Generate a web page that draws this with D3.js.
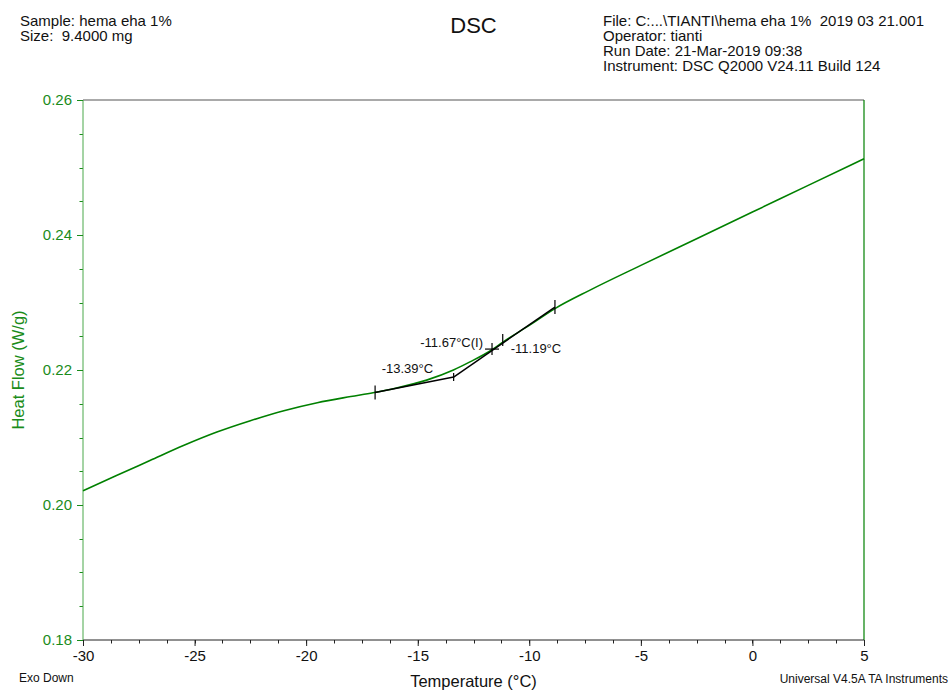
<!DOCTYPE html>
<html>
<head>
<meta charset="utf-8">
<script src="https://cdn.jsdelivr.net/npm/d3@7/dist/d3.min.js"></script>
<style>
  html, body { margin: 0; padding: 0; background: #fff; }
  svg { display: block; font-family: "Liberation Sans", Arial, sans-serif; }
  text { white-space: pre; }
</style>
</head>
<body>
<svg id="chart" width="951" height="690"></svg>
<script>
// DSC heat flow trace (W/g) against temperature (°C)
const temperature = [-30, -28.5, -27, -25.5, -24, -22.5, -21, -19.5, -18, -17, -16, -14.6, -13.4,
  -12.66, -11.67, -11.2, -10, -8.85, -7.3, -5, -2.5, 0, 2.5, 5];
const heatFlow = [0.20212, 0.20437, 0.20659, 0.20881, 0.21081, 0.21249, 0.21397, 0.21516, 0.21607,
  0.21664, 0.2173, 0.2185, 0.2200, 0.2212, 0.2230, 0.2241, 0.2266, 0.2291, 0.2318, 0.2355,
  0.23945, 0.2434, 0.24735, 0.2513];

// Glass transition analysis: baseline tangent, inflection tangent and marked points
const onsetTemps = [-16.91, -13.39];
const onsetFlows = [0.21667, 0.21896];
const slopeTemps = [-13.39, -8.85];
const slopeFlows = [0.21896, 0.22933];
const tickTemps = [-16.91, -13.39, -11.19, -8.85];
const tickFlows = [0.21667, 0.21896, 0.22444, 0.22933];
const inflectionTemp = -11.67;
const inflectionFlow = 0.2231;
const annotationLabels = ["-13.39°C", "-11.67°C(I)", "-11.19°C"];

const xTicks = [-30, -25, -20, -15, -10, -5, 0, 5];
const yTicks = [0.18, 0.20, 0.22, 0.24, 0.26];
const yTickLabels = ["0.18", "0.20", "0.22", "0.24", "0.26"];

const headerLeft = ["Sample: hema eha 1%", "Size:  9.4000 mg"];
const headerRight = ["File: C:...\\TIANTI\\hema eha 1%  2019 03 21.001", "Operator: tianti",
  "Run Date: 21-Mar-2019 09:38", "Instrument: DSC Q2000 V24.11 Build 124"];

const green = "#008000";
const labelGreen = "#1a8c1a";

const svg = d3.select("#chart");
const plotLeft = 83, plotRight = 864, plotTop = 100, plotBottom = 640;

const x = d3.scaleLinear().domain([-30, 5]).range([plotLeft, plotRight]);
const y = d3.scaleLinear().domain([0.18, 0.26]).range([plotBottom, plotTop]);

// Header
svg.append("g").selectAll("text").data(headerLeft).join("text")
  .attr("x", 20).attr("y", (d, i) => 26 + i * 15.3)
  .attr("font-size", 15).attr("fill", "#111").text(d => d);
svg.append("g").selectAll("text").data(headerRight).join("text")
  .attr("x", 603).attr("y", (d, i) => 25.5 + i * 15.3)
  .attr("font-size", 15).attr("fill", "#111").text(d => d);
svg.append("text").attr("x", (plotLeft + plotRight) / 2).attr("y", 33)
  .attr("text-anchor", "middle").attr("font-size", 22).attr("fill", "#111").text("DSC");

// Frame: top border grey, right border green
svg.append("line").attr("x1", plotLeft).attr("x2", plotRight).attr("y1", plotTop).attr("y2", plotTop)
  .attr("stroke", "#555").attr("stroke-width", 1);
svg.append("line").attr("x1", plotRight).attr("x2", plotRight).attr("y1", plotTop).attr("y2", plotBottom)
  .attr("stroke", green).attr("stroke-width", 1.2);

// Minor ticks: every 1.25 °C on x, every 0.005 W/g on y
const xMinor = d3.range(0, 29).map(i => -30 + i * 1.25);
const yMinor = d3.range(0, 17).map(i => 0.18 + i * 0.005);
svg.append("g").selectAll("line").data(xMinor).join("line")
  .attr("x1", d => Math.round(x(d)) + 0.5).attr("x2", d => Math.round(x(d)) + 0.5)
  .attr("y1", plotBottom).attr("y2", plotBottom + 3.5)
  .attr("stroke", "#222").attr("stroke-width", 1);
svg.append("g").selectAll("line").data(yMinor).join("line")
  .attr("y1", d => Math.round(y(d)) + 0.5).attr("y2", d => Math.round(y(d)) + 0.5)
  .attr("x1", plotLeft - 3.5).attr("x2", plotLeft)
  .attr("stroke", labelGreen).attr("stroke-width", 1);

// X axis majors
svg.append("g").attr("transform", `translate(0,${plotBottom})`)
  .call(d3.axisBottom(x).tickValues(xTicks).tickSize(6).tickPadding(4).tickFormat(d => String(d)))
  .call(g => g.select(".domain").attr("stroke", "#222").attr("d", `M${plotLeft},0H${plotRight}`))
  .call(g => g.selectAll("line").attr("stroke", "#222"))
  .call(g => g.selectAll("text").attr("font-size", 15).attr("fill", "#111")
    .attr("font-family", "Liberation Sans, Arial, sans-serif"));

// Y axis majors
svg.append("g").attr("transform", `translate(${plotLeft},0)`)
  .call(d3.axisLeft(y).tickValues(yTicks).tickSize(6).tickPadding(5).tickFormat((d, i) => yTickLabels[i]))
  .call(g => g.select(".domain").attr("stroke", "#4aa84a").attr("d", `M0,${plotTop}V${plotBottom}`))
  .call(g => g.selectAll("line").attr("stroke", labelGreen))
  .call(g => g.selectAll("text").attr("font-size", 15).attr("fill", labelGreen)
    .attr("font-family", "Liberation Sans, Arial, sans-serif"));

// Axis titles
svg.append("text").attr("x", (plotLeft + plotRight) / 2).attr("y", 686.5)
  .attr("text-anchor", "middle").attr("font-size", 16.5).attr("fill", "#111")
  .text("Temperature (°C)");
svg.append("text").attr("transform", `translate(24,${(plotTop + plotBottom) / 2}) rotate(-90)`)
  .attr("text-anchor", "middle").attr("font-size", 16.5).attr("fill", labelGreen)
  .text("Heat Flow (W/g)");

svg.append("text").attr("x", 19).attr("y", 682).attr("font-size", 12).attr("fill", "#111").text("Exo Down");
svg.append("text").attr("x", 948).attr("y", 682.5).attr("text-anchor", "end")
  .attr("font-size", 12).attr("fill", "#111").text("Universal V4.5A TA Instruments");

// Heat flow curve
const curve = temperature.map((t, i) => [t, heatFlow[i]]);
svg.append("path").datum(curve)
  .attr("fill", "none").attr("stroke", green).attr("stroke-width", 1.6)
  .attr("d", d3.line().x(d => x(d[0])).y(d => y(d[1])).curve(d3.curveMonotoneX));

// Tangent construction
const tangentLine = d3.line().x(d => x(d[0])).y(d => y(d[1]));
svg.append("path").datum(onsetTemps.map((t, i) => [t, onsetFlows[i]]))
  .attr("fill", "none").attr("stroke", "#000").attr("stroke-width", 1.5).attr("d", tangentLine);
svg.append("path").datum(slopeTemps.map((t, i) => [t, slopeFlows[i]]))
  .attr("fill", "none").attr("stroke", "#000").attr("stroke-width", 1.5).attr("d", tangentLine);

// Vertical markers at analysis points
const markerHalf = [7, 4, 6, 7];
svg.append("g").selectAll("line").data(tickTemps).join("line")
  .attr("x1", d => x(d)).attr("x2", d => x(d))
  .attr("y1", (d, i) => y(tickFlows[i]) - markerHalf[i])
  .attr("y2", (d, i) => y(tickFlows[i]) + markerHalf[i])
  .attr("stroke", "#000").attr("stroke-width", 1.2);

// Inflection cross
const ix = x(inflectionTemp), iy = y(inflectionFlow);
svg.append("line").attr("x1", ix - 7).attr("x2", ix + 7).attr("y1", iy).attr("y2", iy)
  .attr("stroke", "#000").attr("stroke-width", 1.2);
svg.append("line").attr("x1", ix).attr("x2", ix).attr("y1", iy - 6).attr("y2", iy + 6)
  .attr("stroke", "#000").attr("stroke-width", 1.2);

// Annotation labels
svg.append("text").attr("x", x(onsetTemps[1]) - 72).attr("y", y(onsetFlows[1]) - 4)
  .attr("font-size", 13).attr("fill", "#111").text(annotationLabels[0]);
svg.append("text").attr("x", ix - 9).attr("y", iy - 2.5).attr("text-anchor", "end")
  .attr("font-size", 13).attr("fill", "#111").text(annotationLabels[1]);
svg.append("text").attr("x", x(tickTemps[2]) + 8).attr("y", y(tickFlows[2]) + 13)
  .attr("font-size", 13).attr("fill", "#111").text(annotationLabels[2]);
</script>
</body>
</html>
